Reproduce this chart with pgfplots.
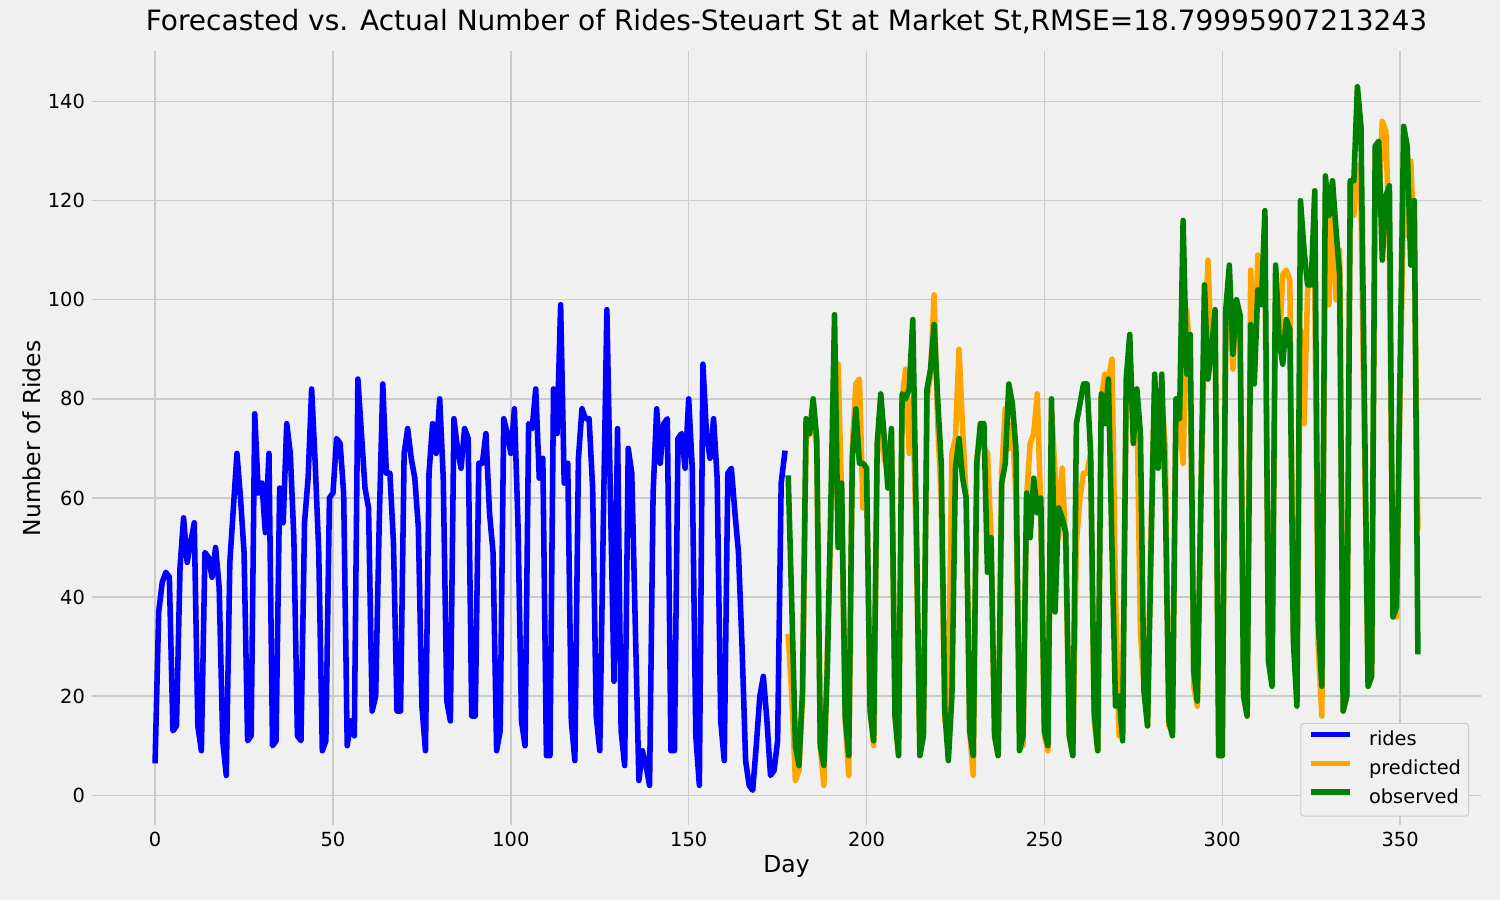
\documentclass[border=0pt]{standalone}
\usepackage{fontspec}
\setmainfont{DejaVu Sans}
\usepackage{pgfplots}
\pgfplotsset{compat=1.18}
\definecolor{bg}{HTML}{F0F0F0}
\definecolor{gridc}{HTML}{CBCBCB}
\definecolor{mblue}{HTML}{0000FF}
\definecolor{morange}{HTML}{FFA500}
\definecolor{mgreen}{HTML}{008000}
\definecolor{legedge}{HTML}{CCCCCC}
\pgfplotstableread{
x y
0 7
1 37
2 43
3 45
4 44
5 13
6 14
7 46
8 56
9 47
10 51
11 55
12 14
13 9
14 49
15 48
16 44
17 50
18 42
19 11
20 4
21 47
22 58
23 69
24 60
25 49
26 11
27 12
28 77
29 61
30 63
31 53
32 69
33 10
34 11
35 62
36 55
37 75
38 69
39 52
40 12
41 11
42 55
43 64
44 82
45 67
46 49
47 9
48 11
49 60
50 61
51 72
52 71
53 61
54 10
55 15
56 12
57 84
58 73
59 62
60 58
61 17
62 20
63 55
64 83
65 65
66 65
67 51
68 17
69 17
70 69
71 74
72 68
73 64
74 54
75 18
76 9
77 65
78 75
79 69
80 80
81 64
82 19
83 15
84 76
85 70
86 66
87 74
88 72
89 16
90 16
91 67
92 67
93 73
94 57
95 49
96 9
97 13
98 76
99 73
100 69
101 78
102 55
103 15
104 10
105 75
106 74
107 82
108 64
109 68
110 8
111 8
112 82
113 73
114 99
115 63
116 67
117 15
118 7
119 68
120 78
121 76
122 76
123 62
124 16
125 9
126 55
127 98
128 60
129 23
130 74
131 13
132 6
133 70
134 65
135 34
136 3
137 9
138 6
139 2
140 61
141 78
142 67
143 75
144 76
145 9
146 9
147 72
148 73
149 66
150 80
151 66
152 12
153 2
154 87
155 73
156 68
157 76
158 64
159 15
160 7
161 65
162 66
163 57
164 49
165 30
166 7
167 2
168 1
169 10
170 20
171 24
172 15
173 4
174 5
175 11
176 63
177 69
}\rides
\pgfplotstableread{
x y
178 32
179 20
180 3
181 5
182 20
183 72
184 73
185 76
186 70
187 10
188 2
189 30
190 55
191 75
192 87
193 60
194 15
195 4
196 70
197 83
198 84
199 58
200 66
201 17
202 10
203 68
204 78
205 68
206 65
207 72
208 16
209 8
210 80
211 86
212 69
213 80
214 50
215 8
216 15
217 80
218 85
219 101
220 75
221 60
222 15
223 19
224 69
225 72
226 90
227 74
228 60
229 13
230 4
231 68
232 72
233 70
234 69
235 52
236 12
237 8
238 65
239 78
240 70
241 75
242 60
243 13
244 10
245 60
246 71
247 73
248 81
249 57
250 12
251 9
252 78
253 65
254 52
255 66
256 50
257 12
258 8
259 51
260 60
261 65
262 65
263 69
264 15
265 9
266 80
267 85
268 84
269 88
270 40
271 12
272 20
273 80
274 90
275 72
276 80
277 33
278 22
279 14
280 55
281 82
282 70
283 80
284 70
285 14
286 13
287 78
288 76
289 67
290 98
291 88
292 22
293 18
294 60
295 90
296 108
297 88
298 95
299 8
300 8
301 95
302 100
303 86
304 100
305 95
306 20
307 16
308 106
309 84
310 109
311 100
312 109
313 30
314 24
315 100
316 90
317 105
318 106
319 104
320 32
321 24
322 94
323 75
324 102
325 106
326 104
327 30
328 16
329 120
330 99
331 124
332 100
333 110
334 17
335 20
336 124
337 117
338 127
339 120
340 70
341 22
342 24
343 130
344 118
345 136
346 134
347 110
348 36
349 36
350 80
351 122
352 113
353 128
354 110
355 54
}\predicted
\pgfplotstableread{
x y
178 64
179 38
180 10
181 6
182 21
183 76
184 73
185 80
186 72
187 10
188 6
189 26
190 60
191 97
192 50
193 63
194 16
195 8
196 68
197 78
198 67
199 67
200 66
201 17
202 11
203 71
204 81
205 72
206 62
207 74
208 16
209 8
210 81
211 80
212 82
213 96
214 55
215 8
216 12
217 82
218 86
219 95
220 80
221 67
222 17
223 7
224 20
225 66
226 72
227 64
228 60
229 13
230 8
231 67
232 75
233 75
234 45
235 52
236 12
237 8
238 63
239 67
240 83
241 79
242 70
243 9
244 12
245 61
246 52
247 64
248 57
249 60
250 13
251 10
252 80
253 37
254 58
255 56
256 53
257 12
258 8
259 75
260 79
261 83
262 83
263 69
264 17
265 9
266 81
267 75
268 84
269 50
270 18
271 20
272 11
273 84
274 93
275 71
276 82
277 73
278 21
279 14
280 50
281 85
282 66
283 85
284 60
285 15
286 12
287 80
288 76
289 116
290 85
291 93
292 25
293 19
294 60
295 103
296 84
297 90
298 98
299 8
300 8
301 98
302 107
303 89
304 100
305 97
306 20
307 16
308 95
309 83
310 102
311 99
312 118
313 27
314 22
315 107
316 92
317 87
318 96
319 94
320 31
321 18
322 120
323 110
324 103
325 103
326 122
327 35
328 22
329 125
330 117
331 124
332 114
333 105
334 17
335 20
336 124
337 124
338 143
339 135
340 78
341 22
342 24
343 131
344 132
345 108
346 121
347 123
348 36
349 38
350 86
351 135
352 131
353 107
354 120
355 29
}\observed
\begin{document}
\begin{tikzpicture}
\useasboundingbox (0,0) rectangle (750pt,450pt);
\fill[bg] (0,0) rectangle (750pt,450pt);
\begin{axis}[
  at={(46pt,37.25pt)}, anchor=south west,
  scale only axis, width=694.5pt, height=387pt,
  xmin=-17.75, xmax=372.75, ymin=-6.1, ymax=150.1,
  xtick={0,50,...,350}, ytick={0,20,...,140},
  grid=major, major grid style={gridc, line width=0.7pt},
  axis line style={draw=none}, major tick length=0pt,
  tick label style={font=\fontsize{9.7}{11.6}\selectfont, black},
  /pgf/number format/assume math mode=true,
  title={Forecasted vs. Actual Number of Rides-Steuart St at Market St,RMSE=18.79995907213243},
  title style={at={(axis description cs:0.5,1.0239)}, anchor=center, font=\fontsize{14}{16.8}\selectfont},
  xlabel={Day},
  xlabel style={at={(axis description cs:0.5,-0.0523)}, anchor=center, font=\fontsize{11.7}{14}\selectfont},
  ylabel={Number of Rides},
  ylabel style={at={(axis description cs:-0.0432,0.5)}, anchor=center, font=\fontsize{11.7}{14}\selectfont},
  legend style={at={(0.9914,0.0114)}, anchor=south east, fill=bg, draw=legedge, line width=0.5pt,
    rounded corners=1.5pt, font=\fontsize{9.7}{11.6}\selectfont,
    inner xsep=3.75pt, inner ysep=3.75pt, row sep=4.45pt,
    nodes={inner sep=0pt, text height=0.75em, text depth=0.25em},
    /tikz/every odd column/.append style={column sep=8pt}},
  legend cell align=left,
  legend image code/.code={\draw[#1, line cap=butt] (0pt,0.32em) -- (19.5pt,0.32em);},
  every axis plot/.append style={line width=2.78pt, line join=round, line cap=rect},
]
\addplot[mblue] table {\rides};
\addlegendentry{rides}
\addplot[morange] table {\predicted};
\addlegendentry{predicted}
\addplot[mgreen] table {\observed};
\addlegendentry{observed}
\end{axis}
\end{tikzpicture}
\end{document}
